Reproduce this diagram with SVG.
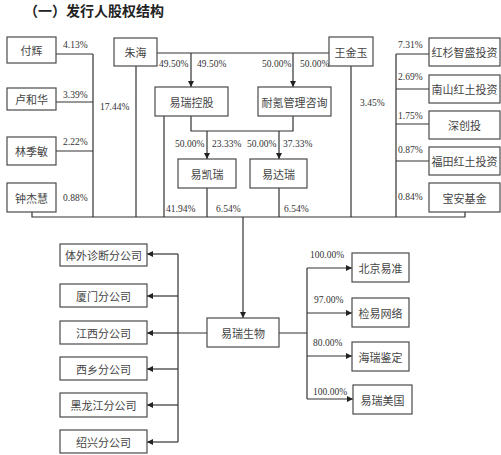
<svg xmlns="http://www.w3.org/2000/svg" width="501" height="455" viewBox="0 0 501 455">
<style>
.bg{fill:#fff}
.box{fill:#fff;stroke:#4a4a4a;stroke-width:1.2}
.t{font-family:"Noto Sans CJK SC","Noto Sans CJK TC",sans-serif;font-size:11px;fill:#444;text-anchor:middle;dominant-baseline:central}
.p{font-family:"Liberation Serif",serif;font-size:9.5px;fill:#333}
.ln{fill:none;stroke:#333;stroke-width:1.2}
.title{font-family:"Noto Sans CJK SC",sans-serif;font-size:14px;font-weight:bold;fill:#222}
</style>
<defs>
<marker id="ah" viewBox="0 0 10 10" refX="10" refY="5" markerWidth="6" markerHeight="6" markerUnits="userSpaceOnUse" orient="auto">
<path d="M0,0 L10,5 L0,10 z" fill="#222"/>
</marker>
</defs>
<rect class="bg" x="0" y="0" width="501" height="455"/>
<text class="title" x="24" y="15.5">（一）发行人股权结构</text>

<g id="connectors">
<!-- left individuals -->
<path class="ln" d="M56,54 H93 M56,102 H93 M56,151 H93 M93,54 V217 M32,212 V217 H465 V212"/>
<!-- Zhu Hai -->
<path class="ln" d="M157,53 H329 M136,66 V217"/>
<path class="ln" d="M191,53 V87" marker-end="url(#ah)"/>
<!-- Wang Jinyu -->
<path class="ln" d="M351,66 V217"/>
<path class="ln" d="M293,53 V87" marker-end="url(#ah)"/>
<!-- holdings to subsidiaries -->
<path class="ln" d="M191,116 V131 H293 V116 M164,116 V217"/>
<path class="ln" d="M207,131 V159" marker-end="url(#ah)"/>
<path class="ln" d="M279,131 V159" marker-end="url(#ah)"/>
<path class="ln" d="M207,188 V217 M279,188 V217"/>
<!-- right investors -->
<path class="ln" d="M396,54 V217 M396,54 H429 M396,89 H429 M396,124 H429 M396,161 H429"/>
<!-- main down arrow -->
<path class="ln" d="M243,217 V318" marker-end="url(#ah)"/>
<!-- left branches -->
<path class="ln" d="M207,333 H178 M178,254 V442"/>
<path class="ln" d="M178,254 H147" marker-end="url(#ah)"/>
<path class="ln" d="M178,296 H147" marker-end="url(#ah)"/>
<path class="ln" d="M178,333 H147" marker-end="url(#ah)"/>
<path class="ln" d="M178,369 H147" marker-end="url(#ah)"/>
<path class="ln" d="M178,405 H147" marker-end="url(#ah)"/>
<path class="ln" d="M178,442 H147" marker-end="url(#ah)"/>
<!-- right branches -->
<path class="ln" d="M279,333 H307 M307,268 V399"/>
<path class="ln" d="M307,268 H352" marker-end="url(#ah)"/>
<path class="ln" d="M307,313 H352" marker-end="url(#ah)"/>
<path class="ln" d="M307,356 H352" marker-end="url(#ah)"/>
<path class="ln" d="M307,399 H353" marker-end="url(#ah)"/>
</g>

<g id="labels">
<text class="p" x="63" y="48">4.13%</text>
<text class="p" x="63" y="98">3.39%</text>
<text class="p" x="63" y="145">2.22%</text>
<text class="p" x="63" y="201">0.88%</text>
<text class="p" x="100" y="110">17.44%</text>
<text class="p" x="159" y="67">49.50%</text>
<text class="p" x="197" y="67">49.50%</text>
<text class="p" x="262" y="67">50.00%</text>
<text class="p" x="300" y="67">50.00%</text>
<text class="p" x="360" y="106">3.45%</text>
<text class="p" x="175" y="147">50.00%</text>
<text class="p" x="212" y="147">23.33%</text>
<text class="p" x="247" y="147">50.00%</text>
<text class="p" x="283" y="147">37.33%</text>
<text class="p" x="166" y="212">41.94%</text>
<text class="p" x="216" y="212">6.54%</text>
<text class="p" x="284" y="212">6.54%</text>
<text class="p" x="398" y="48">7.31%</text>
<text class="p" x="398" y="80">2.69%</text>
<text class="p" x="398" y="119">1.75%</text>
<text class="p" x="398" y="153">0.87%</text>
<text class="p" x="398" y="200">0.84%</text>
<text class="p" x="310" y="258">100.00%</text>
<text class="p" x="314" y="303">97.00%</text>
<text class="p" x="313" y="346">80.00%</text>
<text class="p" x="313" y="395">100.00%</text>
</g>

<g id="n-fuhui"><rect class="box" x="7" y="37" width="49" height="26"/><text class="t" x="31.5" y="50">付辉</text></g>
<g id="n-luhehua"><rect class="box" x="7" y="88" width="49" height="22"/><text class="t" x="31.5" y="99">卢和华</text></g>
<g id="n-linjimin"><rect class="box" x="7" y="137" width="49" height="28"/><text class="t" x="31.5" y="151">林季敏</text></g>
<g id="n-zhongjiehui"><rect class="box" x="7" y="183" width="49" height="29"/><text class="t" x="31.5" y="197.5">钟杰慧</text></g>
<g id="n-zhuhai"><rect class="box" x="114" y="38" width="43" height="28"/><text class="t" x="135.5" y="52">朱海</text></g>
<g id="n-wangjinyu"><rect class="box" x="329" y="37" width="44" height="29"/><text class="t" x="351" y="51.5">王金玉</text></g>
<g id="n-yiruikonggu"><rect class="box" x="155" y="87" width="73" height="29"/><text class="t" x="191.5" y="101.5">易瑞控股</text></g>
<g id="n-naike"><rect class="box" x="258" y="87" width="73" height="29"/><text class="t" x="294.5" y="101.5">耐氪管理咨询</text></g>
<g id="n-yikairui"><rect class="box" x="178" y="159" width="58" height="29"/><text class="t" x="207" y="173.5">易凯瑞</text></g>
<g id="n-yidarui"><rect class="box" x="250" y="159" width="57" height="29"/><text class="t" x="278.5" y="173.5">易达瑞</text></g>
<g id="n-hongshan"><rect class="box" x="429" y="38" width="71" height="28"/><text class="t" x="464.5" y="52">红杉智盛投资</text></g>
<g id="n-nanshan"><rect class="box" x="429" y="75" width="71" height="28"/><text class="t" x="464.5" y="89">南山红土投资</text></g>
<g id="n-shenchuangtou"><rect class="box" x="429" y="111" width="71" height="28"/><text class="t" x="464.5" y="125">深创投</text></g>
<g id="n-futian"><rect class="box" x="429" y="147" width="71" height="28"/><text class="t" x="464.5" y="161">福田红土投资</text></g>
<g id="n-baoan"><rect class="box" x="429" y="183" width="71" height="29"/><text class="t" x="464.5" y="197.5">宝安基金</text></g>
<g id="n-yiruishengwu"><rect class="box" x="207" y="318" width="72" height="29"/><text class="t" x="243" y="332.5">易瑞生物</text></g>
<g id="n-tiwai"><rect class="box" x="60" y="244" width="87" height="22"/><text class="t" x="103.5" y="255">体外诊断分公司</text></g>
<g id="n-xiamen"><rect class="box" x="60" y="284" width="87" height="23"/><text class="t" x="103.5" y="295.5">厦门分公司</text></g>
<g id="n-jiangxi"><rect class="box" x="60" y="321" width="87" height="23"/><text class="t" x="103.5" y="332.5">江西分公司</text></g>
<g id="n-xixiang"><rect class="box" x="60" y="357" width="87" height="23"/><text class="t" x="103.5" y="368.5">西乡分公司</text></g>
<g id="n-heilongjiang"><rect class="box" x="60" y="393" width="87" height="24"/><text class="t" x="103.5" y="405">黑龙江分公司</text></g>
<g id="n-shaoxing"><rect class="box" x="60" y="430" width="87" height="23"/><text class="t" x="103.5" y="441.5">绍兴分公司</text></g>
<g id="n-beijing"><rect class="box" x="352" y="253" width="57" height="29"/><text class="t" x="380.5" y="267.5">北京易准</text></g>
<g id="n-jianyi"><rect class="box" x="352" y="298" width="57" height="29"/><text class="t" x="380.5" y="312.5">检易网络</text></g>
<g id="n-hairui"><rect class="box" x="352" y="342" width="57" height="29"/><text class="t" x="380.5" y="356.5">海瑞鉴定</text></g>
<g id="n-meiguo"><rect class="box" x="353" y="385" width="59" height="29"/><text class="t" x="382.5" y="399.5">易瑞美国</text></g>
</svg>
